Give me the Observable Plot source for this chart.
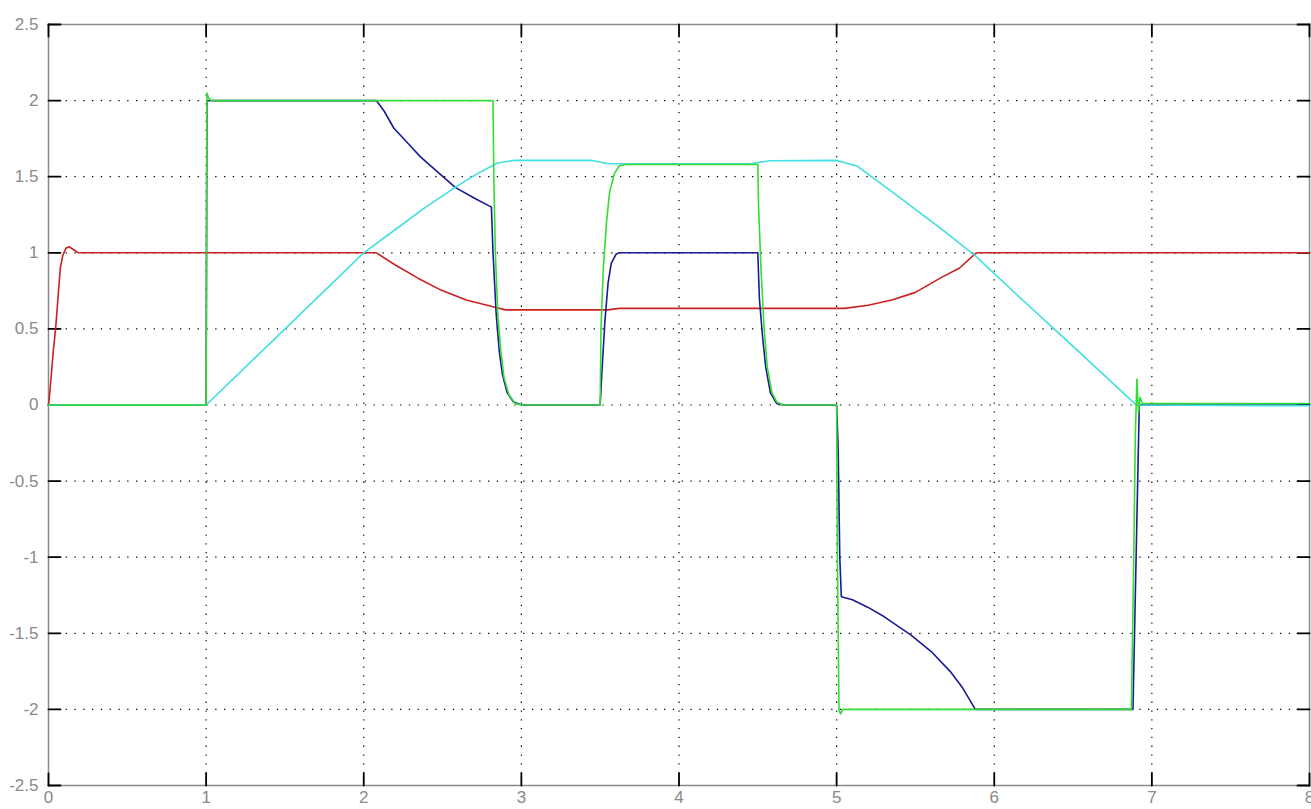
<!DOCTYPE html>
<html>
<head>
<meta charset="utf-8">
<script src="https://cdn.jsdelivr.net/npm/d3@7"></script>
<script src="https://cdn.jsdelivr.net/npm/@observablehq/plot@0.6"></script>
<style>
  html, body { margin: 0; padding: 0; background: #fff; }
  #chart { width: 1311px; height: 809px; }
</style>
</head>
<body>
<div id="chart"></div>
<script>
// ---- data ----
const xTicks = [0, 1, 2, 3, 4, 5, 6, 7, 8];
const xTickLabels = ["0", "1", "2", "3", "4", "5", "6", "7", "8"];
const yTicks = [-2.5, -2, -1.5, -1, -0.5, 0, 0.5, 1, 1.5, 2, 2.5];
const yTickLabels = ["-2.5", "-2", "-1.5", "-1", "-0.5", "0", "0.5", "1", "1.5", "2", "2.5"];

const redT = [0, 0.01, 0.03, 0.045, 0.06, 0.075, 0.09, 0.11, 0.13, 0.16, 0.19, 2.08, 2.2, 2.35, 2.49, 2.65, 2.82, 2.9, 3.55, 3.62, 5.05, 5.2, 5.35, 5.5, 5.66, 5.78, 5.88, 5.9, 8];
const redV = [0, 0.1, 0.35, 0.5, 0.7, 0.9, 0.98, 1.03, 1.04, 1.02, 1.0, 1.0, 0.92, 0.83, 0.755, 0.69, 0.645, 0.625, 0.625, 0.635, 0.635, 0.655, 0.69, 0.74, 0.835, 0.9, 0.995, 1.0, 1.0];

const blueT = [0, 1, 1.005, 2.08, 2.13, 2.19, 2.28, 2.36, 2.47, 2.58, 2.7, 2.81, 2.82, 2.84, 2.86, 2.88, 2.91, 2.95, 3.0, 3.5, 3.51, 3.53, 3.55, 3.57, 3.6, 3.62, 4.5, 4.51, 4.53, 4.55, 4.58, 4.62, 4.66, 5.0, 5.01, 5.02, 5.03, 5.1, 5.2, 5.3, 5.47, 5.6, 5.72, 5.8, 5.88, 6.88, 6.9, 6.92, 8];
const blueV = [0, 0, 2, 2, 1.93, 1.82, 1.72, 1.63, 1.53, 1.43, 1.36, 1.3, 1.0, 0.6, 0.35, 0.2, 0.08, 0.02, 0, 0, 0.2, 0.55, 0.8, 0.93, 0.99, 1.0, 1.0, 0.7, 0.45, 0.25, 0.08, 0.01, 0, 0, -0.3, -1.0, -1.26, -1.28, -1.33, -1.39, -1.51, -1.62, -1.75, -1.86, -2, -2, -1.0, 0, 0];

const greenT = [0, 1, 1.005, 1.015, 1.03, 2.82, 2.825, 2.835, 2.85, 2.87, 2.89, 2.92, 2.96, 3.0, 3.5, 3.505, 3.52, 3.54, 3.56, 3.59, 3.62, 3.66, 4.5, 4.505, 4.52, 4.54, 4.56, 4.59, 4.62, 4.66, 5.0, 5.005, 5.015, 5.025, 5.04, 6.87, 6.885, 6.895, 6.905, 6.915, 6.925, 6.94, 8];
const greenV = [0, 0, 2.05, 2.02, 2.0, 2.0, 1.5, 1.0, 0.6, 0.35, 0.18, 0.07, 0.01, 0, 0, 0.5, 0.9, 1.2, 1.4, 1.52, 1.57, 1.58, 1.58, 1.3, 0.9, 0.5, 0.25, 0.08, 0.02, 0, 0, -1.0, -2.0, -2.03, -2.0, -2.0, -1.0, -0.2, 0.17, -0.05, 0.05, 0.01, 0.01];

const cyanT = [0, 1, 2, 2.19, 2.38, 2.58, 2.72, 2.85, 2.95, 3.45, 3.55, 4.45, 4.58, 5.0, 5.13, 5.34, 5.66, 5.88, 6.2, 6.5, 6.88, 6.9, 8];
const cyanV = [0, 0, 1, 1.145, 1.29, 1.43, 1.52, 1.59, 1.607, 1.607, 1.585, 1.585, 1.605, 1.607, 1.57, 1.41, 1.16, 0.98, 0.67, 0.385, 0.02, 0, -0.005];

const seriesColors = ["#cc2020", "#1a1a96", "#33dd33", "#3ee0e0"];

// ---- build tables ----
const toRows = (ts, vs) => ts.map((t, i) => ({t, v: vs[i]}));
const redRows = toRows(redT, redV);
const blueRows = toRows(blueT, blueV);
const greenRows = toRows(greenT, greenV);
const cyanRows = toRows(cyanT, cyanV);

const lineStyle = {x: "t", y: "v", strokeWidth: 1.6, curve: "linear"};
const fmtX = d => xTickLabels[xTicks.indexOf(d)];
const fmtY = d => yTickLabels[yTicks.indexOf(d)];

// inward tick shape: a straight stroke of the given length
const tickShape = {draw(context, l) { context.moveTo(0, 0); context.lineTo(0, -l); }};
const tickStyle = {length: 12, shape: tickShape, anchor: "start", stroke: "#000", strokeWidth: 1.8};

const chart = Plot.plot({
  width: 1311,
  height: 809,
  marginLeft: 48,
  marginRight: 2,
  marginTop: 24,
  marginBottom: 24,
  style: {fontFamily: "Liberation Sans, Arial, sans-serif", fontSize: "17px", background: "#fff"},
  x: {domain: [0, 8]},
  y: {domain: [-2.5, 2.5]},
  marks: [
    Plot.gridX(xTicks.slice(1, -1), {stroke: "#000", strokeOpacity: 1, strokeWidth: 1.2, strokeDasharray: "1.3,7.5"}),
    Plot.gridY(yTicks.slice(1), {stroke: "#000", strokeOpacity: 1, strokeWidth: 1.2, strokeDasharray: "1.3,7.5"}),
    Plot.frame({stroke: "#8a8a8a", strokeWidth: 1.5}),
    Plot.axisY(yTicks, {anchor: "left", tickSize: 0, tickPadding: 10, tickFormat: fmtY, fill: "#8a8a8a", label: null}),
    Plot.axisX(xTicks, {anchor: "bottom", tickSize: 0, tickPadding: 5, tickFormat: fmtX, fill: "#8a8a8a", label: null}),
    Plot.vector(yTicks, {x: 0, y: d => d, rotate: 90, ...tickStyle}),
    Plot.vector(yTicks, {x: 8, y: d => d, rotate: -90, ...tickStyle}),
    Plot.vector(xTicks, {x: d => d, y: -2.5, rotate: 0, ...tickStyle}),
    Plot.vector(xTicks, {x: d => d, y: 2.5, rotate: 180, ...tickStyle}),
    Plot.line(redRows, {...lineStyle, stroke: seriesColors[0]}),
    Plot.line(blueRows, {...lineStyle, stroke: seriesColors[1]}),
    Plot.line(cyanRows, {...lineStyle, stroke: seriesColors[3]}),
    Plot.line(greenRows, {...lineStyle, stroke: seriesColors[2]})
  ]
});
document.getElementById("chart").appendChild(chart);
</script>
</body>
</html>
